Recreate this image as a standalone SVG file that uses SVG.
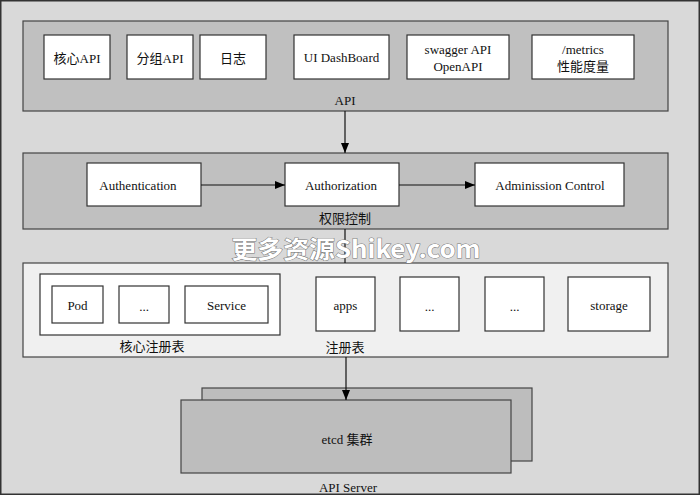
<svg xmlns="http://www.w3.org/2000/svg" width="700" height="495" viewBox="0 0 700 495">
<defs>
<marker id="ah" markerWidth="10" markerHeight="8" refX="10" refY="4" orient="auto" markerUnits="userSpaceOnUse">
<path d="M0,0 L10,4 L0,8 Z" fill="#000"/>
</marker>
<style>
text{font-family:"Liberation Serif","Noto Sans CJK SC",serif;font-size:13px;fill:#111;text-anchor:middle;dominant-baseline:central}
.box{fill:#fff;stroke:#333;stroke-width:1.2}
.frame{fill:#c0c0c0;stroke:#444;stroke-width:1.2}
.light{fill:#f0f0f0;stroke:#444;stroke-width:1.2}
.etcd{fill:#bdbdbd;stroke:#444;stroke-width:1.2}
.conn{stroke:#111;stroke-width:1.2;fill:none}
.wm{font-family:"Noto Sans CJK SC","DejaVu Sans",sans-serif;font-size:24px;font-weight:bold;fill:#fff;stroke:#777;stroke-width:1;paint-order:stroke}
</style>
</defs>
<rect x="0.75" y="0.75" width="698.5" height="493.5" fill="#d9d9d9" stroke="#333" stroke-width="1.5"/>

<g id="api">
<rect class="frame" x="23" y="21" width="645" height="90"/>
<text x="345" y="100">API</text>
</g>
<g id="core-api"><rect class="box" x="44" y="35" width="66" height="44"/><text x="77" y="58">核心API</text></g>
<g id="group-api"><rect class="box" x="127" y="35" width="66" height="44"/><text x="160" y="58">分组API</text></g>
<g id="log"><rect class="box" x="200" y="35" width="66" height="44"/><text x="233" y="58">日志</text></g>
<g id="ui-dashboard"><rect class="box" x="294" y="35" width="95" height="44"/><text x="341.5" y="57">UI DashBoard</text></g>
<g id="swagger"><rect class="box" x="407" y="35" width="102" height="44"/><text x="458" y="49">swagger API</text><text x="458" y="66">OpenAPI</text></g>
<g id="metrics"><rect class="box" x="532" y="35" width="102" height="44"/><text x="583" y="49">/metrics</text><text x="583" y="66">性能度量</text></g>

<g id="auth">
<rect class="frame" x="23" y="153" width="645" height="76"/>
<text x="345" y="218">权限控制</text>
</g>
<g id="authentication"><rect class="box" x="87" y="163" width="114" height="43"/><text x="138" y="185">Authentication</text></g>
<g id="authorization"><rect class="box" x="285" y="163" width="114" height="43"/><text x="341" y="185">Authorization</text></g>
<g id="admission"><rect class="box" x="475" y="163" width="149" height="43"/><text x="550" y="185">Adminission Control</text></g>

<g id="registry">
<rect class="light" x="23" y="263" width="645" height="94"/>
<text x="345" y="347">注册表</text>
</g>
<g id="core-registry">
<rect class="box" x="40" y="274" width="240" height="61"/>
<text x="152" y="346">核心注册表</text>
</g>
<g id="pod"><rect class="box" x="52" y="286" width="51" height="37"/><text x="77.5" y="305">Pod</text></g>
<g id="core-more"><rect class="box" x="119" y="286" width="50" height="37"/><text x="144" y="306">...</text></g>
<g id="service"><rect class="box" x="185" y="286" width="83" height="37"/><text x="226.5" y="305">Service</text></g>
<g id="apps"><rect class="box" x="316" y="277" width="59" height="54"/><text x="345.5" y="305">apps</text></g>
<g id="more1"><rect class="box" x="400" y="277" width="59" height="54"/><text x="429.5" y="306">...</text></g>
<g id="more2"><rect class="box" x="485" y="277" width="59" height="54"/><text x="514.5" y="306">...</text></g>
<g id="storage"><rect class="box" x="568" y="277" width="82" height="54"/><text x="609" y="305">storage</text></g>

<g id="etcd">
<rect class="etcd" x="202" y="388" width="330" height="73"/>
<rect class="etcd" x="181" y="400" width="330" height="73"/>
<text x="347" y="439">etcd 集群</text>
</g>
<g id="apiserver-label"><text x="348" y="487">API Server</text></g>

<g id="connectors">
<line class="conn" x1="345" y1="111" x2="345" y2="153" marker-end="url(#ah)"/>
<line class="conn" x1="201" y1="185" x2="285" y2="185" marker-end="url(#ah)"/>
<line class="conn" x1="399" y1="185" x2="475" y2="185" marker-end="url(#ah)"/>
<line class="conn" x1="345" y1="229" x2="345" y2="263"/>
<line class="conn" x1="346" y1="357" x2="346" y2="400" marker-end="url(#ah)"/>
</g>

<text class="wm" x="356" y="247" textLength="249" lengthAdjust="spacingAndGlyphs">更多资源Shikey.com</text>
</svg>
